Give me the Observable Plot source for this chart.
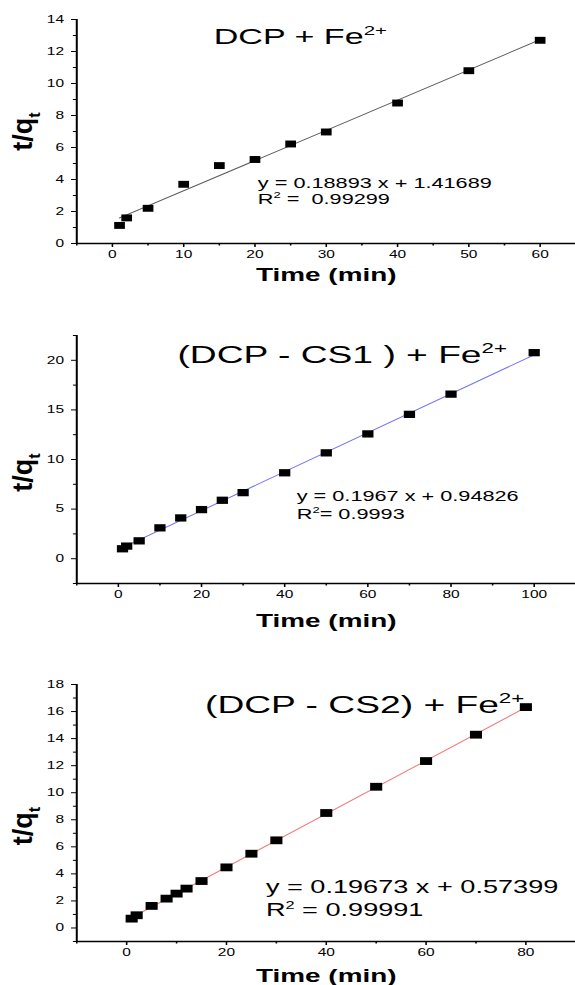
<!DOCTYPE html>
<html><head><meta charset="utf-8">
<script src="https://cdn.jsdelivr.net/npm/d3@7"></script>
<script src="https://cdn.jsdelivr.net/npm/@observablehq/plot@0.6"></script>
<style>
html,body{margin:0;padding:0;background:#fff;}
#wrap{position:relative;width:575px;height:985px;overflow:hidden;background:#fff;}
#wrap svg{position:absolute;left:0;}
svg text{white-space:pre;}
</style></head><body><div id="wrap"></div>
<script>
// ---- data ----
const time1 = [1, 2, 5, 10, 15, 20, 25, 30, 40, 50, 60];
const tq1 = [1.13, 1.6, 2.2, 3.7, 4.87, 5.25, 6.22, 6.97, 8.78, 10.8, 12.7];
const time2 = [1, 2, 5, 10, 15, 20, 25, 30, 40, 50, 60, 70, 80, 100];
const tq2 = [1.0, 1.27, 1.8, 3.11, 4.11, 4.95, 5.89, 6.66, 8.66, 10.67, 12.58, 14.55, 16.59, 20.77];
const time3 = [1, 2, 5, 8, 10, 12, 15, 20, 25, 30, 40, 50, 60, 70, 80];
const tq3 = [0.69, 0.94, 1.63, 2.17, 2.54, 2.91, 3.47, 4.48, 5.49, 6.48, 8.5, 10.44, 12.34, 14.29, 16.33];

const titles = ["DCP + Fe^{2+}", "(DCP - CS1 ) + Fe^{2+}", "(DCP - CS2) + Fe^{2+}"];
const equations = ["y = 0.18893 x + 1.41689", "y = 0.1967 x + 0.94826", "y = 0.19673 x + 0.57399"];
const r2Labels = ["R^{2} =  0.99299", "R^{2}= 0.9993", "R^{2} = 0.99991"];
const xLabel = "Time (min)";
const yLabel = "t/q_{t}";

const xDomains = [[-5, 65], [-10, 110], [-10, 90]];
const yDomains = [[0, 14], [-2.5, 22.5], [-1, 18]];
const xMajor = [[0, 10, 20, 30, 40, 50, 60], [0, 20, 40, 60, 80, 100], [0, 20, 40, 60, 80]];
const xMinor = [[-5, 5, 15, 25, 35, 45, 55, 65], [-10, 10, 30, 50, 70, 90, 110], [-10, 10, 30, 50, 70, 90]];
const yMajor = [[0, 2, 4, 6, 8, 10, 12, 14], [0, 5, 10, 15, 20], [0, 2, 4, 6, 8, 10, 12, 14, 16, 18]];
const yMinor = [[1, 3, 5, 7, 9, 11, 13], [-2.5, 2.5, 7.5, 12.5, 17.5, 22.5], [-1, 1, 3, 5, 7, 9, 11, 13, 15, 17]];

// ---- layout / style ----
const S = 1.55;                 // horizontal stretch of the reference
const W = 575 / S;
const layout = [
  {top: 0,   height: 300, mt: 19, mb: 57, line: "#5a5a5a", r: 3.9,
   title: {x: 14.2, y: 12.44, fs: 22}, eq: {x: 20.4, y: 3.49, y2: 2.48, fs: 14},
   xl: 37, yl: 0},
  {top: 300, height: 340, mt: 35, mb: 57, line: "#7373f2", r: 4.1,
   title: {x: 14.2, y: 19.7, fs: 24}, eq: {x: 42.9, y: 5.83, y2: 4.02, fs: 14},
   xl: 43, yl: 13},
  {top: 640, height: 345, mt: 44, mb: 44, line: "#f07a7a", r: 4.4,
   title: {x: 15.7, y: 15.9, fs: 24}, eq: {x: 27.9, y: 2.57, y2: 0.87, fs: 17.5},
   xl: 40, yl: 13}
];
const series = [[time1, tq1], [time2, tq2], [time3, tq3]];

function rich(svg) {
  d3.select(svg).selectAll("text").each(function () {
    const s = this.textContent;
    if (!/[\^_]\{/.test(s)) return;
    const fs = parseFloat(getComputedStyle(this).fontSize) || 10;
    const parts = s.split(/([\^_]\{[^}]*\})/).filter(p => p);
    this.textContent = "";
    let shift = 0;
    for (const p of parts) {
      const m = p.match(/^([\^_])\{([^}]*)\}$/);
      const ts = d3.select(this).append("tspan");
      if (m) {
        const target = m[1] === "^" ? -0.42 * fs : 0.28 * fs;
        ts.attr("dy", target - shift).attr("font-size", 0.6 * fs).text(m[2]);
        shift = target;
      } else {
        ts.attr("dy", -shift).text(p);
        shift = 0;
      }
    }
  });
}

// the rotated axis title is not widened in the reference: undo the stretch for it
function unstretch(svg, el) {
  let top = el;
  while (top.parentNode && top.parentNode !== svg) top = top.parentNode;
  const bb = el.getBoundingClientRect();
  const sr = svg.getBoundingClientRect();
  const cx = (bb.x + bb.width / 2 - sr.x) / S;
  const g = document.createElementNS("http://www.w3.org/2000/svg", "g");
  g.setAttribute("transform", `translate(${cx},0) scale(${1 / S},1) translate(${-cx},0)`);
  svg.insertBefore(g, top);
  g.appendChild(top);
}

const wrap = document.getElementById("wrap");
series.forEach(([xs, ys], i) => {
  const L = layout[i];
  const data = xs.map((x, k) => ({time: x, tq: ys[k]}));
  const ml = 76 / S;
  const svg = Plot.plot({
    width: W, height: L.height,
    marginLeft: ml, marginRight: 0, marginTop: L.mt, marginBottom: L.mb,
    style: {fontFamily: "'Liberation Sans', Arial, sans-serif", fontSize: "10px", color: "#000", background: "transparent", overflow: "visible"},
    x: {domain: xDomains[i], label: null},
    y: {domain: yDomains[i], label: null},
    marks: [
      Plot.axisX({ticks: xMajor[i], tickSize: 4, tickPadding: 3, fontSize: 10, label: null, strokeWidth: 1}),
      Plot.axisX({ticks: xMinor[i], tickSize: 2.5, tickFormat: () => "", label: null, strokeWidth: 1}),
      Plot.axisY({ticks: yMajor[i], tickSize: 3.2, tickPadding: 5, fontSize: 10, label: null, strokeWidth: 1}),
      Plot.axisY({ticks: yMinor[i], tickSize: 2, tickFormat: () => "", label: null, strokeWidth: 1}),
      Plot.ruleX([xDomains[i][0]], {stroke: "#000", strokeWidth: 1.3}),
      Plot.ruleY([yDomains[i][0]], {stroke: "#000", strokeWidth: 1.4}),
      Plot.linearRegressionY(data, {x: "time", y: "tq", stroke: L.line, strokeWidth: 0.9, ci: 0}),
      Plot.dot(data, {x: "time", y: "tq", symbol: "square", r: L.r, fill: "#000", stroke: "none"}),
      Plot.text([titles[i]], {x: () => L.title.x, y: () => L.title.y, text: d => d, textAnchor: "start", lineAnchor: "bottom", fontSize: L.title.fs, fill: "#000"}),
      Plot.text([equations[i]], {x: () => L.eq.x, y: () => L.eq.y, text: d => d, textAnchor: "start", lineAnchor: "bottom", fontSize: L.eq.fs, fill: "#000"}),
      Plot.text([r2Labels[i]], {x: () => L.eq.x, y: () => L.eq.y2, text: d => d, textAnchor: "start", lineAnchor: "bottom", fontSize: L.eq.fs, fill: "#000"}),
      Plot.text([xLabel], {frameAnchor: "bottom", text: d => d, textAnchor: "middle", lineAnchor: "bottom", dy: L.xl, fontSize: 18, fontWeight: "bold", fill: "#000"}),
      Plot.text([yLabel], {frameAnchor: "left", text: d => d, rotate: -90, textAnchor: "middle", lineAnchor: "middle", dx: -(ml - 22 / S), dy: L.yl, fontSize: 27, fontWeight: "bold", fill: "#000"})
    ]
  });
  svg.setAttribute("width", 575);
  svg.setAttribute("height", L.height);
  svg.setAttribute("viewBox", `0 0 ${W} ${L.height}`);
  svg.setAttribute("preserveAspectRatio", "none");
  svg.style.top = L.top + "px";
  wrap.appendChild(svg);
  rich(svg);
  const yl = Array.from(svg.querySelectorAll("text")).find(t => t.textContent.startsWith("t/q"));
  if (yl) unstretch(svg, yl);
});
</script></body></html>
